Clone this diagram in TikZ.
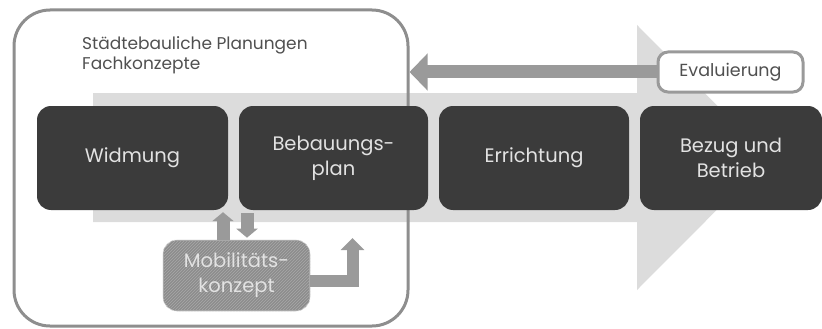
\documentclass[tikz,border=0pt]{standalone}
\usepackage{fontspec}
\setmainfont{Poppins}
\usepackage{tikz}
\usetikzlibrary{arrows.meta}
\usetikzlibrary{patterns}
\usetikzlibrary{calc}

\definecolor{boxdark}{HTML}{3B3B3B}
\definecolor{boxtext}{HTML}{E2E2E2}
\definecolor{bandgray}{HTML}{DCDCDC}
\definecolor{framegray}{HTML}{8E8E8E}
\definecolor{flowgray}{HTML}{9A9A9A}
\definecolor{mobilgray}{HTML}{8C8C8C}
\definecolor{labelgray}{HTML}{505050}

\tikzset{
  phase/.style={fill=boxdark, rounded corners=14pt, minimum height=104pt, text=boxtext, align=center, font=\fontsize{19.5}{25}\selectfont, inner sep=0pt},
  flow/.style={draw=flowgray, line width=13pt, -{Triangle[width=21pt, length=9pt]}},
}

\begin{document}
\begin{tikzpicture}[x=1pt, y=-1pt]
\useasboundingbox (0,0) rectangle (822,329);
% big process arrow
\fill[bandgray] (93,93) -- (637,93) -- (637,25) -- (769,157.5) -- (637,290) -- (637,222) -- (93,222) -- cycle;
% planning frame
\node[draw=framegray, line width=3pt, rounded corners=36pt, minimum width=394pt, minimum height=316pt, inner sep=0pt] (frame) at (211,168) {};
\node[anchor=north west, inner sep=0pt, align=left, text=labelgray, font=\fontsize{17}{20.5}\selectfont] (plan) at (82,36) {Städtebauliche Planungen\\Fachkonzepte};
% phases
\node[phase, minimum width=191pt] (wid) at (132.5,158) {Widmung};
\node[phase, minimum width=189pt] (bebau) at (333.5,158) {Bebauungs-\\plan};
\node[phase, minimum width=190pt] (err) at (534,158) {Errichtung};
\node[phase, minimum width=182pt] (bezug) at (731,158) {Bezug und\\Betrieb};
% evaluation
\node[draw=flowgray, fill=white, line width=3pt, rounded corners=10pt, minimum width=145pt, minimum height=40pt, inner sep=0pt, text=labelgray, font=\fontsize{17.5}{20}\selectfont] (eval) at (730.5,72) {Evaluierung};
\draw[flow, -{Triangle[width=36pt, length=18pt]}] (eval.west) -- (eval.west -| frame.east);
% mobility concept
\node[fill=mobilgray, draw=white!70!mobilgray, line width=0.6pt, rounded corners=14pt, minimum width=147pt, minimum height=71pt, inner sep=0pt, align=center, text=boxtext, font=\fontsize{19.5}{25}\selectfont, postaction={pattern=north east lines, pattern color=white!25!mobilgray}] (mobil) at (236.5,275.5) {Mobilitäts-\\konzept};
\draw[flow] ($(mobil.north)+(-13.5,0)$) -- ($(wid.south)+(90.5,2)$);
\draw[flow] ($(bebau.south)+(-86.5,3)$) -- ($(mobil.north)+(10.5,-2)$);
\coordinate (lend) at (352.5,238);
\draw[flow, line width=12pt, -{Triangle[width=23pt, length=12pt]}] ($(mobil.east)+(0,5.5)$) -| (lend);
\end{tikzpicture}
\end{document}
